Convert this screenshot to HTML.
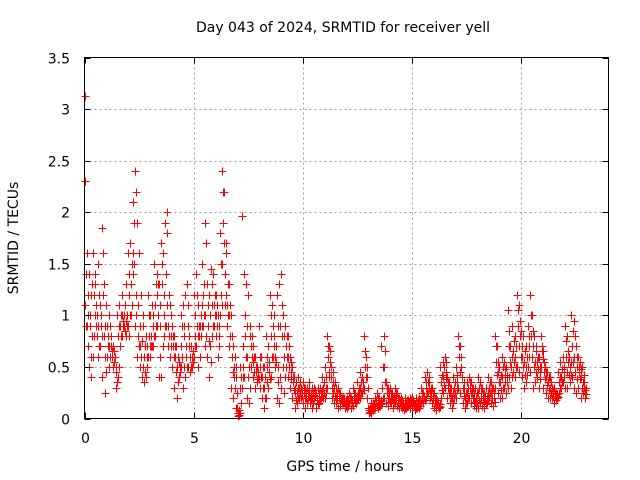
<!DOCTYPE html>
<html><head><meta charset="utf-8"><style>
html,body{margin:0;padding:0;background:#fff;}
svg{display:block;font-family:"DejaVu Sans","Liberation Sans",sans-serif;}
</style></head><body>
<svg id="chart" width="640" height="480" viewBox="0 0 640 480" xmlns="http://www.w3.org/2000/svg">
<rect x="0" y="0" width="640" height="480" fill="#fff"/>
<text x="343" y="32" font-size="14" text-anchor="middle" fill="#000">Day 043 of 2024, SRMTID for receiver yell</text>
<text x="345" y="471" font-size="14" text-anchor="middle" fill="#000">GPS time / hours</text>
<text transform="translate(18,238) rotate(-90)" font-size="14" text-anchor="middle" fill="#000">SRMTID / TECUs</text>
<g id="grid"></g>
<g id="marks"></g>
<rect x="84.5" y="57.5" width="524" height="361" fill="none" stroke="#000" stroke-width="1"/>
<g id="ticks"></g>
</svg>
<script>
const xTicks = [0,5,10,15,20];
const yTicks = [0,0.5,1,1.5,2,2.5,3,3.5];
const yTickLabels = ["0","0.5","1","1.5","2","2.5","3","3.5"];
const timeStep = 0.1;
const seriesA = [
3.13,1.6,1.4,1.2,1.6,1.3,1.5,1.1,1.85,1.3,
1.1,1.0,0.8,0.7,0.6,1.0,1.1,1.2,1.0,1.3,
1.6,1.7,2.1,2.4,1.9,1.6,1.2,1.0,0.8,1.2,
1.0,1.1,1.5,1.4,1.3,1.7,1.6,1.9,2.0,1.1,
0.9,0.8,0.7,0.6,1.0,1.1,1.2,1.3,0.8,0.7,
1.2,1.4,1.1,0.9,1.5,1.9,1.3,1.2,1.45,1.4,
1.2,1.0,1.8,2.4,2.2,1.7,1.3,1.0,0.7,0.6,
0.1,0.5,1.96,1.4,1.3,1.2,0.9,0.7,0.6,0.5,
0.9,0.6,0.5,0.8,0.7,1.2,1.1,0.8,1.2,1.3,
1.4,1.0,0.9,0.8,0.6,0.5,0.4,0.35,0.4,0.3,
0.35,0.3,0.3,0.35,0.3,0.3,0.25,0.3,0.3,0.4,
0.5,0.8,0.7,0.4,0.45,0.3,0.3,0.25,0.2,0.2,
0.2,0.25,0.2,0.3,0.25,0.35,0.45,0.4,0.8,0.6,
0.1,0.15,0.15,0.2,0.25,0.2,0.7,0.8,0.35,0.3,
0.3,0.25,0.3,0.25,0.2,0.2,0.15,0.2,0.18,0.2,
0.2,0.15,0.2,0.2,0.3,0.25,0.4,0.45,0.35,0.3,
0.25,0.2,0.15,0.5,0.55,0.6,0.4,0.35,0.3,0.4,
0.5,0.8,0.7,0.4,0.3,0.35,0.4,0.35,0.3,0.3,
0.4,0.35,0.3,0.25,0.3,0.4,0.35,0.3,0.8,0.7,
0.5,0.6,0.55,0.5,1.05,0.7,0.9,0.8,1.2,1.1,
0.85,0.8,0.7,0.9,1.2,1.0,0.8,0.7,0.6,0.8,
0.65,0.5,0.45,0.4,0.3,0.3,0.25,0.45,0.55,0.6,
0.9,0.8,0.6,1.0,0.95,0.7,0.6,0.55,0.5,0.35];
const seriesB = [
2.3,0.9,0.5,0.4,0.8,0.9,0.6,0.7,0.4,0.25,
0.6,0.5,0.7,0.5,0.3,0.4,0.7,0.8,0.9,0.8,
0.8,1.0,1.4,0.9,0.6,0.5,0.4,0.35,0.4,0.6,
0.6,0.7,0.8,0.9,0.4,0.4,0.8,0.9,0.7,0.6,
0.5,0.3,0.2,0.4,0.5,0.3,0.4,0.5,0.45,0.5,
0.6,0.7,0.5,0.8,0.9,0.7,0.6,0.4,0.8,0.9,
0.8,0.6,1.0,1.5,1.1,0.9,0.7,0.3,0.2,0.1,
0.02,0.05,0.3,0.4,0.2,0.15,0.5,0.4,0.3,0.35,
0.3,0.2,0.1,0.2,0.3,0.4,0.6,0.5,0.2,0.15,
0.3,0.25,0.5,0.4,0.3,0.2,0.1,0.15,0.2,0.2,
0.15,0.1,0.2,0.15,0.1,0.2,0.1,0.15,0.2,0.2,
0.2,0.3,0.4,0.2,0.15,0.15,0.1,0.12,0.15,0.1,
0.1,0.15,0.1,0.12,0.15,0.2,0.2,0.25,0.3,0.2,
0.05,0.05,0.08,0.1,0.1,0.12,0.15,0.2,0.15,0.12,
0.15,0.1,0.15,0.12,0.1,0.1,0.08,0.1,0.12,0.1,
0.1,0.08,0.1,0.1,0.15,0.15,0.2,0.25,0.2,0.15,
0.1,0.08,0.1,0.2,0.25,0.3,0.2,0.15,0.1,0.2,
0.2,0.3,0.25,0.15,0.1,0.15,0.2,0.15,0.12,0.1,
0.1,0.15,0.12,0.1,0.15,0.2,0.15,0.12,0.3,0.25,
0.2,0.2,0.3,0.25,0.4,0.3,0.45,0.4,0.5,0.45,
0.4,0.3,0.35,0.5,0.45,0.3,0.35,0.4,0.3,0.5,
0.3,0.25,0.2,0.2,0.2,0.15,0.2,0.25,0.3,0.35,
0.3,0.3,0.35,0.4,0.3,0.25,0.3,0.2,0.25,0.2];
const seriesC = [
1.1,1.0,0.9,0.8,1.2,1.1,0.9,1.0,1.2,0.6,
0.9,0.7,0.6,0.65,0.5,0.8,0.9,1.0,0.85,1.0,
1.2,1.3,1.6,1.2,0.8,0.7,0.75,0.6,0.7,0.8,
0.8,0.9,1.1,1.2,0.9,1.3,1.0,1.4,0.9,0.8,
0.7,0.6,0.5,0.55,0.7,0.8,0.6,0.9,0.6,0.6,
0.8,0.9,0.8,1.0,1.2,1.0,0.9,0.7,1.1,1.1,
1.0,0.8,1.2,1.9,1.4,1.1,1.0,0.6,0.4,0.4,
0.05,0.3,0.5,0.8,0.6,0.5,0.7,0.55,0.45,0.4,
0.5,0.4,0.3,0.5,0.45,0.8,0.9,0.6,0.5,0.4,
0.8,0.6,0.7,0.6,0.45,0.35,0.25,0.25,0.3,0.25,
0.25,0.2,0.25,0.2,0.2,0.25,0.18,0.2,0.25,0.3,
0.3,0.6,0.55,0.3,0.3,0.2,0.2,0.18,0.18,0.15,
0.15,0.2,0.15,0.2,0.2,0.25,0.3,0.3,0.5,0.4,
0.08,0.1,0.12,0.15,0.15,0.15,0.3,0.5,0.25,0.2,
0.2,0.2,0.2,0.18,0.15,0.15,0.12,0.15,0.15,0.15,
0.15,0.12,0.15,0.15,0.2,0.2,0.3,0.35,0.25,0.2,
0.15,0.15,0.12,0.35,0.4,0.45,0.3,0.25,0.2,0.3,
0.35,0.6,0.5,0.3,0.2,0.25,0.3,0.25,0.2,0.2,
0.25,0.25,0.2,0.18,0.2,0.3,0.25,0.2,0.55,0.45,
0.35,0.4,0.4,0.35,0.7,0.5,0.65,0.6,0.9,0.8,
0.6,0.55,0.5,0.7,0.8,0.7,0.55,0.55,0.45,0.65,
0.45,0.4,0.35,0.3,0.25,0.22,0.22,0.35,0.4,0.45,
0.6,0.55,0.5,0.7,0.6,0.5,0.45,0.4,0.35,0.28];
const seriesD = [
1.4,1.2,1.0,1.3,1.4,0.8,1.2,0.9,1.6,0.9,
0.8,0.9,0.6,0.55,0.45,0.9,1.0,0.95,1.1,0.9,
1.4,1.5,1.9,2.2,1.1,0.9,0.9,0.7,0.6,1.0,
0.7,1.0,1.3,1.3,1.1,1.5,1.2,1.8,1.2,1.0,
0.8,0.7,0.6,0.5,0.9,0.9,0.7,1.1,0.7,0.65,
1.0,1.2,0.9,1.1,1.3,1.7,1.1,1.0,1.3,1.2,
1.1,0.9,1.5,2.2,1.6,1.3,1.1,0.8,0.5,0.5,
0.08,0.4,0.7,1.0,0.9,0.8,0.8,0.6,0.5,0.45,
0.6,0.5,0.4,0.6,0.55,1.0,1.0,0.7,0.9,0.9,
1.1,0.8,0.8,0.7,0.55,0.4,0.3,0.3,0.35,0.28,
0.3,0.25,0.28,0.25,0.25,0.28,0.2,0.25,0.28,0.35,
0.4,0.7,0.65,0.35,0.35,0.25,0.25,0.2,0.2,0.18,
0.18,0.22,0.18,0.25,0.22,0.3,0.35,0.35,0.65,0.5,
0.1,0.12,0.14,0.18,0.2,0.18,0.5,0.65,0.3,0.25,
0.25,0.22,0.25,0.2,0.18,0.18,0.14,0.18,0.16,0.18,
0.18,0.14,0.18,0.18,0.25,0.22,0.35,0.4,0.3,0.25,
0.2,0.18,0.14,0.42,0.5,0.55,0.35,0.3,0.25,0.35,
0.42,0.7,0.6,0.35,0.25,0.3,0.35,0.3,0.25,0.25,
0.3,0.3,0.25,0.22,0.25,0.35,0.3,0.25,0.7,0.55,
0.42,0.5,0.48,0.42,0.85,0.6,0.75,0.7,1.05,0.95,
0.7,0.65,0.6,0.8,1.0,0.85,0.65,0.6,0.5,0.7,
0.55,0.45,0.4,0.35,0.28,0.25,0.24,0.4,0.48,0.5,
0.75,0.65,0.55,0.85,0.8,0.6,0.5,0.48,0.42,0.3];
const seriesE = [
0.9,0.7,0.6,0.6,1.0,1.0,0.7,0.8,0.8,0.45,
0.7,0.6,0.65,0.6,0.35,0.5,0.8,0.9,0.95,0.9,
1.0,1.1,1.5,1.0,0.7,0.6,0.5,0.45,0.5,0.7,
0.7,0.8,0.9,1.0,0.6,0.7,0.9,1.1,0.8,0.7,
0.6,0.45,0.35,0.45,0.6,0.5,0.5,0.7,0.5,0.55,
0.7,0.8,0.6,0.9,1.0,0.8,0.75,0.55,0.9,1.0,
0.9,0.7,1.1,1.7,1.2,1.0,0.8,0.45,0.3,0.25,
0.03,0.15,0.4,0.6,0.4,0.3,0.6,0.45,0.38,0.38,
0.4,0.3,0.2,0.35,0.38,0.6,0.7,0.55,0.35,0.3,
0.5,0.4,0.6,0.5,0.38,0.28,0.18,0.2,0.25,0.22,
0.2,0.15,0.22,0.18,0.15,0.22,0.14,0.18,0.22,0.25,
0.25,0.45,0.5,0.25,0.22,0.18,0.15,0.15,0.16,0.12,
0.12,0.18,0.12,0.16,0.18,0.22,0.25,0.28,0.4,0.3,
0.06,0.08,0.1,0.12,0.12,0.14,0.2,0.35,0.2,0.16,
0.18,0.15,0.18,0.15,0.12,0.12,0.1,0.12,0.14,0.12,
0.12,0.1,0.12,0.12,0.18,0.18,0.25,0.3,0.22,0.18,
0.12,0.12,0.11,0.28,0.32,0.38,0.25,0.2,0.15,0.25,
0.28,0.45,0.4,0.22,0.15,0.2,0.25,0.2,0.16,0.15,
0.18,0.2,0.16,0.14,0.18,0.25,0.2,0.16,0.42,0.35,
0.28,0.3,0.35,0.3,0.55,0.4,0.55,0.5,0.7,0.6,
0.5,0.42,0.42,0.6,0.6,0.5,0.45,0.48,0.38,0.58,
0.38,0.32,0.28,0.25,0.22,0.18,0.21,0.3,0.35,0.4,
0.45,0.42,0.42,0.55,0.45,0.38,0.38,0.3,0.3,0.24];

const NS='http://www.w3.org/2000/svg';
const X0=84.5,X1=608.5,Y0=418.5,Y1=57.5,XMAX=24,YMAX=3.5;
function xs(v){return X0+(X1-X0)*v/XMAX;}
function ys(v){return Y0-(Y0-Y1)*v/YMAX;}
function mk(tag,attrs,parent){const e=document.createElementNS(NS,tag);for(const k in attrs)e.setAttribute(k,attrs[k]);parent.appendChild(e);return e;}
const grid=document.getElementById('grid'),ticks=document.getElementById('ticks'),marks=document.getElementById('marks');
xTicks.forEach((t,i)=>{
  const x=Math.round(xs(t))+0.5;
  if(t>0){const g=mk('line',{x1:x,x2:x,y1:Y1,y2:Y0,stroke:'#a0a0a0','stroke-dasharray':'2,3'},grid);
  
  }
  const a=mk('line',{x1:x,x2:x,y1:Y0,y2:Y0-6,stroke:'#000'},ticks);
  
  
  const b=mk('line',{x1:x,x2:x,y1:Y1,y2:Y1+6,stroke:'#000'},ticks);
  
  
  const l=mk('text',{x:x,y:443,'font-size':14,'text-anchor':'middle',fill:'#000'},ticks);
  l.textContent=String(t);
  
  
});
yTicks.forEach((t,i)=>{
  const y=Math.round(ys(t))+0.5;
  if(t>0&&t<YMAX){const g=mk('line',{x1:X0,x2:X1,y1:y,y2:y,stroke:'#a0a0a0','stroke-dasharray':'2,3'},grid);
  
  }
  const a=mk('line',{x1:X0,x2:X0+6,y1:y,y2:y,stroke:'#000'},ticks);
  
  
  const b=mk('line',{x1:X1,x2:X1-6,y1:y,y2:y,stroke:'#000'},ticks);
  
  
  const l=mk('text',{x:70,y:y+5,'font-size':14,'text-anchor':'end',fill:'#000'},ticks);
  l.textContent=yTickLabels[i];
  
  
});
function drawSeries(vals,offset,color,name){
  let d='';
  vals.forEach((v,i)=>{
    const x=Math.round(xs(i*timeStep+offset))+0.5, y=Math.round(ys(v))+0.5;
    d+=`M${x-4},${y}H${x+4}M${x},${y-4}V${y+4}`;
  });
  const p=mk('path',{d:d,stroke:color,'stroke-width':1,fill:'none'},marks);
  
  
}
drawSeries(seriesA,0.0,'#f00','points-series-a');
drawSeries(seriesB,0.02,'#f00','points-series-b');
drawSeries(seriesC,0.04,'#f00','points-series-c');
drawSeries(seriesD,0.06,'#f00','points-series-d');
drawSeries(seriesE,0.08,'#f00','points-series-e');
</script>
</body></html>
